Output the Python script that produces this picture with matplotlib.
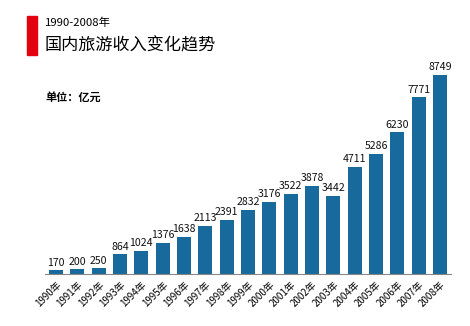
import matplotlib
matplotlib.use('Agg')
import matplotlib.pyplot as plt
from matplotlib.patches import Rectangle

plt.rcParams['font.family'] = ['Noto Sans CJK SC', 'DejaVu Sans']

# data
years = [str(y) + '年' for y in range(1990, 2009)]
income = [170, 200, 250, 864, 1024, 1376, 1638, 2113, 2391, 2832,
          3176, 3522, 3878, 3442, 4711, 5286, 6230, 7771, 8749]

fig = plt.figure(figsize=(4.70, 3.26), dpi=100)
ax = fig.add_axes([45 / 470, 1 - 274 / 326, (451 - 45) / 470, (274 - 60) / 326])

x = list(range(len(income)))
bars = ax.bar(x, income, width=0.66, color='#176a9b')
for xi, v in zip(x, income):
    ax.text(xi, v + 110, str(v), ha='center', va='bottom', fontsize=7.6, color='#111111')

ax.set_xlim(-0.52, 18.52)
ax.set_ylim(0, 9400)
ax.set_yticks([])
ax.set_xticks(x)
ax.set_xticklabels(years, rotation=45, ha='right', rotation_mode='anchor', fontsize=7)
ax.tick_params(axis='x', length=0, pad=4)
for s in ['top', 'right', 'left']:
    ax.spines[s].set_visible(False)
ax.spines['bottom'].set_color('#888888')
ax.spines['bottom'].set_linewidth(0.8)

# header
fig.patches.append(Rectangle((27 / 470, 1 - 55 / 326), 10 / 470, 39 / 326,
                             transform=fig.transFigure, color='#e3000f', zorder=5))
fig.text(45 / 470, 1 - 23 / 326, '1990-2008年', fontsize=8.2, va='center', ha='left')
fig.text(45 / 470, 1 - 45 / 326, '国内旅游收入变化趋势', fontsize=12.3, va='center', ha='left')
fig.text(45 / 470, 1 - 97 / 326, '单位：亿元', fontsize=8, fontweight='bold', va='center', ha='left')

fig.savefig('out.png', dpi=100)
